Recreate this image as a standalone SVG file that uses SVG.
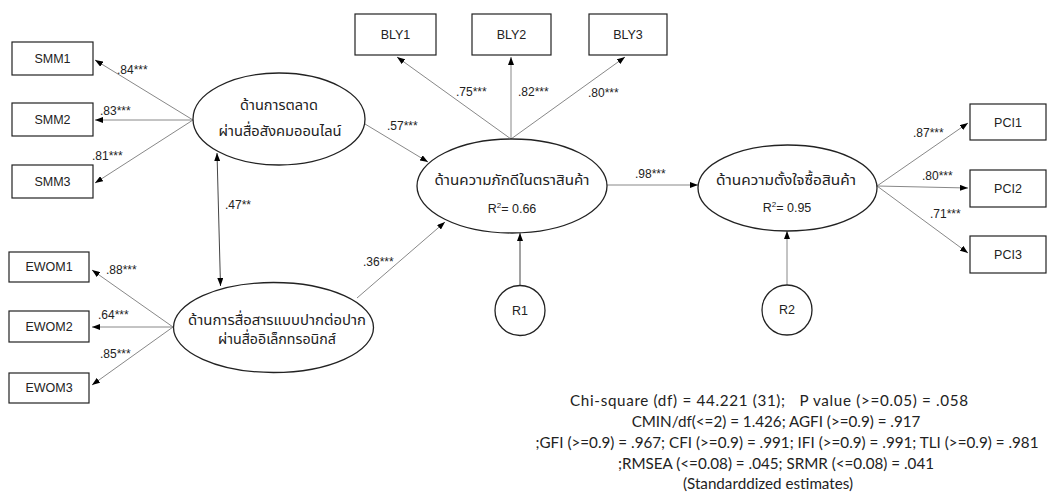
<svg xmlns="http://www.w3.org/2000/svg" width="1048" height="495" viewBox="0 0 1048 495">
<defs>
<marker id="ah" viewBox="0 0 8 6" refX="8" refY="3" markerWidth="8" markerHeight="6" markerUnits="userSpaceOnUse" orient="auto-start-reverse">
<path d="M0,0 L8,3 L0,6 Z" fill="#000"/>
</marker>
<style>
.box{fill:#fff;stroke:#222;stroke-width:1.2}
.lat{fill:#fff;stroke:#222;stroke-width:1.3}
.t{font-family:"Liberation Sans",Arial,sans-serif;font-size:12.5px;fill:#222;text-anchor:middle}
.th{font-family:"Liberation Sans","Noto Sans Thai","Noto Sans",sans-serif;font-size:14.5px;fill:#222;text-anchor:middle}
.lb{font-family:"Liberation Sans",Arial,sans-serif;font-size:12px;fill:#222}
.fit{font-family:Lato,"Open Sans","Liberation Sans",sans-serif;font-size:15.2px;fill:#222;text-anchor:middle}
.c{fill:none;stroke:#888;stroke-width:1;marker-end:url(#ah)}
.k{stroke:#444}
</style>
</defs>

<g id="connectors">
<line class="c" x1="193" y1="120" x2="95" y2="60"/>
<line class="c" x1="193" y1="120" x2="95" y2="120"/>
<line class="c" x1="193" y1="120" x2="95" y2="183"/>
<line class="c" x1="173" y1="327" x2="92" y2="270"/>
<line class="c" x1="173" y1="327" x2="92" y2="327"/>
<line class="c" x1="173" y1="327" x2="92" y2="385"/>
<line class="c k" x1="217" y1="153" x2="220.5" y2="286" style="marker-start:url(#ah)"/>
<line class="c" x1="365" y1="124" x2="428" y2="162"/>
<line class="c" x1="357" y1="298" x2="445" y2="222"/>
<line class="c" x1="511" y1="139" x2="397" y2="57"/>
<line class="c" x1="511" y1="139" x2="511" y2="57"/>
<line class="c" x1="511" y1="139" x2="625" y2="57"/>
<line class="c" x1="607" y1="185" x2="698" y2="185"/>
<line class="c k" x1="520" y1="285" x2="520" y2="233"/>
<line class="c" x1="787" y1="285" x2="787" y2="231"/>
<line class="c" x1="877" y1="186" x2="968" y2="123"/>
<line class="c" x1="877" y1="186" x2="968" y2="188"/>
<line class="c" x1="877" y1="186" x2="968" y2="253"/>
</g>

<g id="labels">
<text class="lb" x="117" y="74">.84***</text>
<text class="lb" x="100" y="115">.83***</text>
<text class="lb" x="92" y="160">.81***</text>
<text class="lb" x="106" y="274">.88***</text>
<text class="lb" x="98" y="319">.64***</text>
<text class="lb" x="100" y="358">.85***</text>
<text class="lb" x="225" y="209">.47**</text>
<text class="lb" x="387" y="130">.57***</text>
<text class="lb" x="363" y="266">.36***</text>
<text class="lb" x="456" y="96">.75***</text>
<text class="lb" x="518" y="96">.82***</text>
<text class="lb" x="588" y="97">.80***</text>
<text class="lb" x="635" y="178">.98***</text>
<text class="lb" x="913" y="137">.87***</text>
<text class="lb" x="922" y="180">.80***</text>
<text class="lb" x="930" y="218">.71***</text>
</g>

<g id="SMM1"><rect class="box" x="12" y="42" width="81" height="33"/><text class="t" x="52.5" y="63">SMM1</text></g>
<g id="SMM2"><rect class="box" x="12" y="103" width="81" height="33"/><text class="t" x="52.5" y="124">SMM2</text></g>
<g id="SMM3"><rect class="box" x="12" y="165" width="81" height="33"/><text class="t" x="52.5" y="186">SMM3</text></g>

<g id="EWOM1"><rect class="box" x="9" y="252" width="80" height="30"/><text class="t" x="49" y="271">EWOM1</text></g>
<g id="EWOM2"><rect class="box" x="9" y="311" width="80" height="31"/><text class="t" x="49" y="331">EWOM2</text></g>
<g id="EWOM3"><rect class="box" x="9" y="373" width="80" height="30"/><text class="t" x="49" y="392">EWOM3</text></g>

<g id="BLY1"><rect class="box" x="355" y="14" width="81" height="41"/><text class="t" x="395.5" y="39">BLY1</text></g>
<g id="BLY2"><rect class="box" x="472" y="14" width="79" height="41"/><text class="t" x="511.5" y="39">BLY2</text></g>
<g id="BLY3"><rect class="box" x="589" y="14" width="78" height="41"/><text class="t" x="628" y="39">BLY3</text></g>

<g id="PCI1"><rect class="box" x="970" y="104" width="76" height="36"/><text class="t" x="1008" y="127">PCI1</text></g>
<g id="PCI2"><rect class="box" x="970" y="170" width="76" height="37"/><text class="t" x="1008" y="193">PCI2</text></g>
<g id="PCI3"><rect class="box" x="970" y="236" width="76" height="37"/><text class="t" x="1008" y="259">PCI3</text></g>

<g id="SMM"><ellipse class="lat" cx="279" cy="119" rx="86" ry="46"/>
<text class="th" x="279" y="110" textLength="78" lengthAdjust="spacingAndGlyphs">ด้านการตลาด</text>
<text class="th" x="280" y="136" textLength="123" lengthAdjust="spacingAndGlyphs">ผ่านสื่อสังคมออนไลน์</text></g>

<g id="EWOM"><ellipse class="lat" cx="273.5" cy="327.5" rx="100" ry="45"/>
<text class="th" x="277" y="325" textLength="178" lengthAdjust="spacingAndGlyphs">ด้านการสื่อสารแบบปากต่อปาก</text>
<text class="th" x="277" y="344" textLength="118" lengthAdjust="spacingAndGlyphs">ผ่านสื่ออิเล็กทรอนิกส์</text></g>

<g id="BLY"><ellipse class="lat" cx="512" cy="186" rx="95" ry="47"/>
<text class="th" x="512" y="185" textLength="155" lengthAdjust="spacingAndGlyphs">ด้านความภักดีในตราสินค้า</text>
<text class="t" x="512" y="213">R<tspan font-size="8" dy="-5">2</tspan><tspan dy="5">= 0.66</tspan></text></g>

<g id="PCI"><ellipse class="lat" cx="787.5" cy="188" rx="89.5" ry="43"/>
<text class="th" x="786" y="185" textLength="140" lengthAdjust="spacingAndGlyphs">ด้านความตั้งใจซื้อสินค้า</text>
<text class="t" x="787" y="212">R<tspan font-size="8" dy="-5">2</tspan><tspan dy="5">= 0.95</tspan></text></g>

<g id="R1"><circle class="lat" cx="520" cy="310.5" r="25"/><text class="t" x="520" y="315">R1</text></g>
<g id="R2"><circle class="lat" cx="787" cy="310" r="25"/><text class="t" x="787" y="314">R2</text></g>

<g id="fit">
<text class="fit" x="769" y="406" textLength="398" xml:space="preserve">Chi-square (df) = 44.221 (31);   P value (&gt;=0.05) = .058</text>
<text class="fit" x="776" y="427">CMIN/df(&lt;=2) = 1.426; AGFI (&gt;=0.9) = .917</text>
<text class="fit" x="787" y="448" textLength="503">;GFI (&gt;=0.9) = .967; CFI (&gt;=0.9) = .991; IFI (&gt;=0.9) = .991; TLI (&gt;=0.9) = .981</text>
<text class="fit" x="776" y="469">;RMSEA (&lt;=0.08) = .045; SRMR (&lt;=0.08) = .041</text>
<text class="fit" x="768" y="489">(Standarddized estimates)</text>
</g>
</svg>
